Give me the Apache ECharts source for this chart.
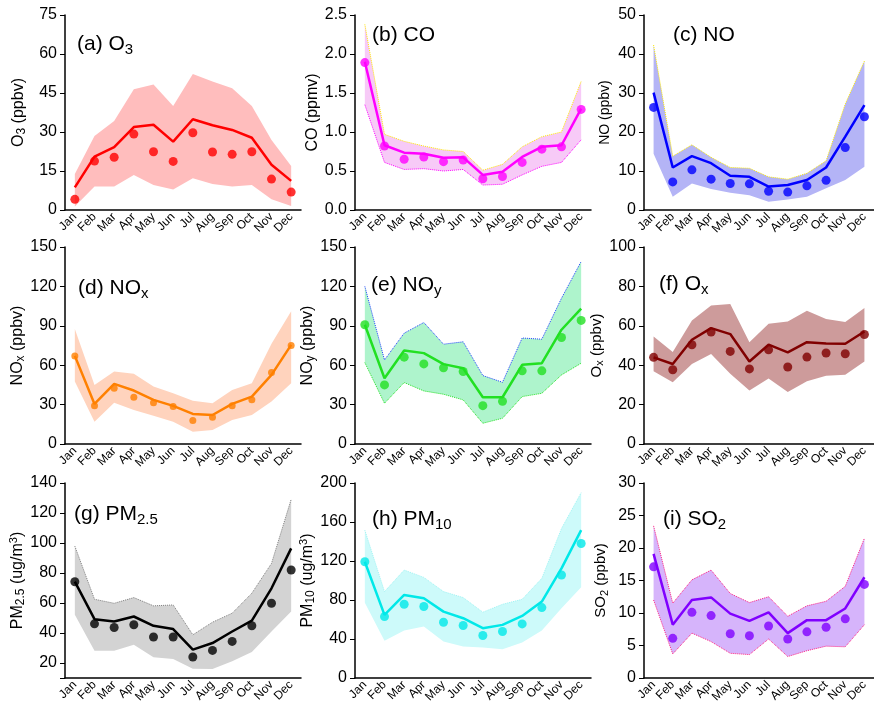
<!DOCTYPE html>
<html>
<head>
<meta charset="utf-8">
<script src="https://cdn.jsdelivr.net/npm/echarts@6/dist/echarts.min.js"></script>
<style>
  html, body { margin: 0; padding: 0; background: #fff; }
  #chart { width: 874px; height: 714px; }
</style>
</head>
<body>
<div id="chart"></div>
<script>
const months = ["Jan", "Feb", "Mar", "Apr", "May", "Jun", "Jul", "Aug", "Sep", "Oct", "Nov", "Dec"];

// (a) O3, ppbv
const o3Line = [8.7, 20.5, 24.2, 31.9, 32.8, 26.3, 34.9, 32.6, 30.8, 27.8, 17.4, 11.2];
const o3Dot = [4.1, 18.8, 20.3, 29.2, 22.4, 18.7, 29.7, 22.3, 21.4, 22.4, 11.9, 6.9];
const o3Low = [1.3, 9, 9, 13.5, 9.6, 7.9, 12.2, 10, 9, 9.6, 4.1, 1.5];
const o3High = [13.8, 28.5, 34.2, 46.4, 48.3, 40, 52.3, 49.4, 46.8, 40, 26.9, 16.9];

// (b) CO, ppmv
const coLine = [1.9, 0.83, 0.735, 0.72, 0.67, 0.675, 0.45, 0.49, 0.68, 0.81, 0.83, 1.3];
const coDot = [1.89, 0.82, 0.65, 0.68, 0.62, 0.64, 0.4, 0.43, 0.61, 0.78, 0.81, 1.29];
const coLow = [1.35, 0.61, 0.52, 0.53, 0.5, 0.52, 0.32, 0.33, 0.45, 0.56, 0.61, 0.9];
const coHigh = [2.38, 0.97, 0.88, 0.82, 0.77, 0.75, 0.51, 0.585, 0.81, 0.94, 1.0, 1.65];

// (c) NO, ppbv
const noLine = [30.1, 10.9, 13.8, 12, 8.8, 8.5, 6.0, 6.4, 7.7, 10.9, 18.8, 26.9];
const noDot = [26.3, 7.2, 10.3, 7.9, 6.8, 6.7, 4.8, 4.6, 6.2, 7.6, 16, 23.9];
const noLow = [14.4, 3.4, 6.8, 5.4, 4.4, 3.8, 2.1, 2.7, 3.4, 5.6, 7.7, 11.1];
const noHigh = [42.3, 13.8, 16.7, 13.5, 10.9, 10.7, 8.5, 7.9, 9.4, 12.6, 27.2, 38.2];

// (d) NOx, ppbv
const noxLine = [67.1, 30.5, 45.8, 40.7, 33.6, 29, 22.9, 22.1, 30.5, 36.1, 52.6, 75.5];
const noxDot = [67, 29.2, 42.5, 35.6, 31.5, 28.5, 17.8, 20.3, 29.2, 33.6, 54.4, 75];
const noxLow = [47.5, 17, 31.5, 25.9, 21.6, 17, 9.4, 10.7, 18.3, 22.1, 32.3, 46.3];
const noxHigh = [87.5, 45, 55.2, 53.4, 43.7, 38.6, 33, 31, 41.2, 46.3, 76.3, 101];

// (e) NOy, ppbv
const noyLine = [90.8, 50.1, 71.2, 69.2, 60.8, 57.7, 35.6, 35.6, 60.3, 61.5, 87, 103];
const noyDot = [90.8, 45, 66.1, 61, 58, 55.2, 29.2, 32.5, 55.7, 55.7, 81.1, 94.1];
const noyLow = [62, 31, 46.8, 40.4, 37.9, 33.6, 15.8, 19.6, 36.1, 38.6, 52.6, 61.5];
const noyHigh = [120, 64, 84.4, 92.5, 76, 77.8, 52.1, 47, 80.7, 79.8, 111, 139];

// (f) Ox, ppbv
const oxLine = [44, 40.6, 52.9, 58.8, 55.8, 41.9, 50.4, 46.5, 51.7, 51, 50.9, 57.1];
const oxDot = [44, 37.7, 50.4, 56.8, 47, 38.1, 47.8, 39.1, 44.1, 46.2, 45.8, 55.6];
const oxLow = [36.9, 31.3, 40.6, 45.7, 35.7, 27.1, 33.2, 26.4, 31.8, 34.7, 35.2, 41.9];
const oxHigh = [54.6, 46.7, 62.7, 70.3, 71.1, 51.7, 61, 62.2, 67.7, 63.5, 61.9, 69];

// (g) PM2.5, ug/m3
const pm25Line = [74.2, 49.2, 47.7, 51, 44.8, 42.6, 28.9, 33.3, 41, 48.3, 69.8, 96.4];
const pm25Dot = [74.2, 46.1, 43.7, 45.5, 37.3, 37.3, 24, 28.4, 34.4, 44.8, 59.8, 82];
const pm25Low = [52.1, 28.2, 28.2, 32.2, 23.8, 22.7, 16.2, 16, 21.1, 27.3, 41, 54.3];
const pm25High = [97.9, 62.5, 59.8, 63.6, 58.1, 58.7, 38.8, 47.2, 53.2, 66.5, 86.4, 129.1];

// (h) PM10, ug/m3
const pm10Line = [119.2, 64.7, 85.2, 81.8, 68.1, 61.3, 51.1, 54.5, 63.7, 78.4, 112.4, 151.6];
const pm10Dot = [119.2, 63, 75.6, 73.3, 57.2, 53.8, 43.6, 47.7, 55.5, 72.2, 105.6, 138];
const pm10Low = [77.3, 38.2, 48.7, 52.8, 37.5, 32.4, 31.3, 29.6, 36.5, 48.7, 71.6, 93];
const pm10High = [151.6, 88.6, 110.7, 103.2, 88.6, 82.5, 67.5, 75.6, 80.7, 102.2, 153.3, 190.1];

// (i) SO2, ppbv
const so2Line = [19.1, 8.2, 12, 12.4, 9.9, 8.8, 10.1, 6.9, 8.9, 8.9, 10.7, 15.5];
const so2Dot = [17.1, 6.1, 10.1, 9.6, 6.8, 6.5, 8, 6, 7.1, 7.8, 9.1, 14.4];
const so2Low = [12, 3.7, 6.9, 5.6, 3.8, 3.6, 6, 3.3, 4.2, 4.9, 4.8, 8.2];
const so2High = [23.4, 11.5, 15.1, 16.6, 13, 11.6, 12.5, 9.5, 11.1, 11.8, 14.1, 21.5];

const FONT = "Liberation Sans, Arial, sans-serif";

const panels = [
  { title: "{t|(a) O}{s|3}", name: "{n|O}{ns|3}{n| (ppbv)}", nameSize: 16, nameGap: 37,
    line: o3Line, dot: o3Dot, low: o3Low, high: o3High, min: 0, max: 75, interval: 15,
    band: "#ffbdbd", color: "#ff0000", tl: 77, tt: 31 },
  { title: "{t|(b) CO}", name: "{n|CO (ppmv)}", nameSize: 16, nameGap: 33,
    line: coLine, dot: coDot, low: coLow, high: coHigh, min: 0, max: 2.5, interval: 0.5, dec: 1,
    band: "#f7caf7", color: "#ff00ff", highDot: "#ffee00", lowDot: "#ff00ff", tl: 372, tt: 22 },
  { title: "{t|(c) NO}", name: "{n|NO (ppbv)}", nameSize: 14, nameGap: 30,
    line: noLine, dot: noDot, low: noLow, high: noHigh, min: 0, max: 50, interval: 10,
    band: "#b4b4f6", color: "#0000ff", highDot: "#ffee00", tl: 673, tt: 22 },
  { title: "{t|(d) NO}{s|x}", name: "{n|NO}{ns|x}{n| (ppbv)}", nameSize: 16, nameGap: 37,
    line: noxLine, dot: noxDot, low: noxLow, high: noxHigh, min: 0, max: 150, interval: 30,
    band: "#ffd3bd", color: "#ff8000", dotSize: 7, tl: 78, tt: 275 },
  { title: "{t|(e) NO}{s|y}", name: "{n|NO}{ns|y}{n| (ppbv)}", nameSize: 16, nameGap: 32,
    line: noyLine, dot: noyDot, low: noyLow, high: noyHigh, min: 0, max: 150, interval: 30,
    band: "#aef4cc", color: "#22e022", highDot: "#2040ff", lowDot: "#22e022", tl: 371, tt: 272 },
  { title: "{t|(f) O}{s|x}", name: "{n|O}{ns|x}{n| (ppbv)}", nameSize: 15, nameGap: 31,
    line: oxLine, dot: oxDot, low: oxLow, high: oxHigh, min: 0, max: 100, interval: 20,
    band: "#cd9b9b", color: "#800000", tl: 659, tt: 271 },
  { title: "{t|(g) PM}{s|2.5}", name: "{n|PM}{ns|2.5}{n| (ug/m}{sup|3}{n|)}", nameSize: 16, nameGap: 38,
    line: pm25Line, dot: pm25Dot, low: pm25Low, high: pm25High, min: 10, max: 140, step: 20,
    band: "#d3d3d3", color: "#000000", highDot: "#808080", tl: 74, tt: 501 },
  { title: "{t|(h) PM}{s|10}", name: "{n|PM}{ns|10}{n| (ug/m}{sup|3}{n|)}", nameSize: 16, nameGap: 36,
    line: pm10Line, dot: pm10Dot, low: pm10Low, high: pm10High, min: 0, max: 200, interval: 40,
    band: "#cdfafa", color: "#00e8e8", highDot: "#a0f4f4", tl: 372, tt: 506 },
  { title: "{t|(i) SO}{s|2}", name: "{n|SO}{ns|2}{n| (ppbv)}", nameSize: 15, nameGap: 34,
    line: so2Line, dot: so2Dot, low: so2Low, high: so2High, min: 0, max: 30, interval: 5,
    band: "#d6b4fb", color: "#8000ff", highDot: "#ff2080", lowDot: "#ff2080", tl: 663, tt: 506 }
];

const colLeft = [65, 355, 644];
const rowTop = [15, 247, 483];
const rowH = [195, 197, 195];

const grids = [], xAxes = [], yAxes = [], series = [], titles = [];

panels.forEach((p, i) => {
  const r = Math.floor(i / 3), c = i % 3;
  grids.push({ left: colLeft[c], top: rowTop[r], width: 236, height: rowH[r] });

  titles.push({
    text: p.title, left: p.tl, top: p.tt, padding: 0,
    textStyle: {
      fontWeight: "normal",
      rich: {
        t: { fontSize: 21, lineHeight: 26, fontWeight: "normal", color: "#000", fontFamily: FONT },
        s: { fontSize: 15, lineHeight: 8, verticalAlign: "bottom", fontWeight: "normal", color: "#000", fontFamily: FONT }
      }
    }
  });

  xAxes.push({
    gridIndex: i, type: "category", data: months, boundaryGap: true,
    axisLine: { lineStyle: { color: "#000", width: 1.5 } },
    axisTick: { alignWithLabel: true, length: 4, lineStyle: { color: "#000", width: 1 } },
    axisLabel: { rotate: 45, interval: 0, fontSize: 12, color: "#000", margin: 5, fontFamily: FONT }
  });

  const y = {
    gridIndex: i, type: "value", min: p.min, max: p.max,
    splitLine: { show: false },
    axisLine: { show: true, lineStyle: { color: "#000", width: 1.5 } },
    axisTick: { show: true, length: 5, lineStyle: { color: "#000", width: 1 } },
    axisLabel: {
      fontSize: 16, color: "#000", margin: 8, fontFamily: FONT,
      formatter: v => p.step ? (v % p.step === 0 ? String(v) : "") : (p.dec ? v.toFixed(p.dec) : String(v))
    },
    name: p.name, nameLocation: "middle", nameGap: p.nameGap,
    nameTextStyle: {
      rich: {
        n: { fontSize: p.nameSize, lineHeight: 18, color: "#000", fontFamily: FONT },
        ns: { fontSize: p.nameSize - 4, lineHeight: 6, verticalAlign: "bottom", color: "#000", fontFamily: FONT },
        sup: { fontSize: p.nameSize - 5, lineHeight: 4, verticalAlign: "top", color: "#000", fontFamily: FONT }
      }
    }
  };
  if (p.interval) y.interval = p.interval; else y.splitNumber = 6;
  yAxes.push(y);

  const spread = p.high.map((h, k) => +(h - p.low[k]).toFixed(3));
  series.push({
    type: "line", xAxisIndex: i, yAxisIndex: i, stack: "band" + i, data: p.low,
    symbol: "none", silent: true, z: 1,
    lineStyle: { width: p.lowDot ? 1 : 0, type: "dotted", color: p.lowDot || p.band }
  });
  series.push({
    type: "line", xAxisIndex: i, yAxisIndex: i, stack: "band" + i, data: spread,
    symbol: "none", silent: true, z: 1,
    lineStyle: { width: p.highDot ? 1 : 0, type: "dotted", color: p.highDot || p.band },
    areaStyle: { color: p.band, opacity: 1 }
  });
  series.push({
    type: "line", xAxisIndex: i, yAxisIndex: i, data: p.line,
    symbol: "none", z: 3,
    lineStyle: { width: 2.5, color: p.color }
  });
  series.push({
    type: "scatter", xAxisIndex: i, yAxisIndex: i, data: p.dot,
    symbolSize: p.dotSize || 9, z: 4,
    itemStyle: { color: p.color }
  });
});

const chart = echarts.init(document.getElementById("chart"));
chart.setOption({
  animation: false,
  backgroundColor: "#fff",
  textStyle: { fontFamily: FONT },
  title: titles,
  grid: grids,
  xAxis: xAxes,
  yAxis: yAxes,
  series: series
});
</script>
</body>
</html>
